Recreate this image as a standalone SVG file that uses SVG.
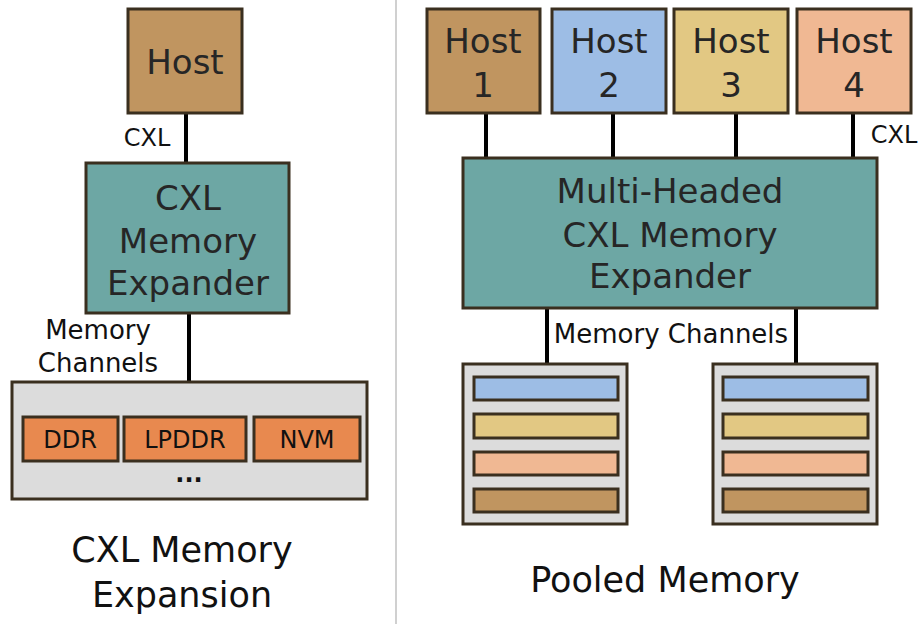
<svg xmlns="http://www.w3.org/2000/svg" width="919" height="624" viewBox="0 0 919 624">
<style>
text{font-family:"DejaVu Sans","Liberation Sans",sans-serif;fill:#262626;text-anchor:middle}
.box{stroke:#3a2f1f;stroke-width:3}
.big{font-size:34px}
.lbl{font-size:26px;fill:#111}
.sm{font-size:24px;fill:#111}
.ttl{font-size:35px;fill:#111}
.tan{fill:#c09560}.blue{fill:#9dbde5}.yel{fill:#e2c883}.pch{fill:#f0b893}
.teal{fill:#6da7a4}.gray{fill:#dcdcdc}.org{fill:#e8894f}
.wire{stroke:#000;stroke-width:4;fill:none}
</style>
<rect width="919" height="624" fill="#fff"/>
<line x1="396" y1="0" x2="396" y2="624" stroke="#d0d0d0" stroke-width="2"/>
<g id="connectors">
<line class="wire" x1="186" y1="113" x2="186" y2="163"/>
<line class="wire" x1="189" y1="313" x2="189" y2="382"/>
<line class="wire" x1="486" y1="113" x2="486" y2="158"/>
<line class="wire" x1="613" y1="113" x2="613" y2="158"/>
<line class="wire" x1="736" y1="113" x2="736" y2="158"/>
<line class="wire" x1="853" y1="113" x2="853" y2="158"/>
<line class="wire" x1="547" y1="308" x2="547" y2="364"/>
<line class="wire" x1="796" y1="308" x2="796" y2="364"/>
<text class="sm" x="147" y="146">CXL</text>
<text class="lbl" x="98" y="339">Memory</text>
<text class="lbl" x="98" y="372">Channels</text>
<text class="sm" x="894" y="143">CXL</text>
<text class="lbl" x="671" y="343">Memory Channels</text>
</g>
<g id="host">
<rect class="box tan" x="128" y="9" width="114" height="104"/>
<text class="big" x="185" y="74">Host</text>
</g>
<g id="expander">
<rect class="box teal" x="86" y="163" width="203" height="150"/>
<text class="big" x="188" y="210">CXL</text>
<text class="big" x="188" y="253">Memory</text>
<text class="big" x="188" y="295">Expander</text>
</g>
<g id="media">
<rect class="box gray" x="12" y="382" width="355" height="117"/>
<rect class="box org" x="23" y="417" width="95" height="44"/>
<text class="sm" x="70" y="448">DDR</text>
<rect class="box org" x="124" y="417" width="122" height="44"/>
<text class="sm" x="185" y="448">LPDDR</text>
<rect class="box org" x="254" y="417" width="106" height="44"/>
<text class="sm" x="307" y="448">NVM</text>
<text class="sm" x="189" y="482" style="font-weight:bold">...</text>
</g>
<text class="ttl" x="182" y="562">CXL Memory</text>
<text class="ttl" x="182" y="607">Expansion</text>
<g id="host1">
<rect class="box tan" x="427" y="9" width="113" height="104"/>
<text class="big" x="483" y="53">Host</text>
<text class="big" x="483" y="97">1</text>
</g>
<g id="host2">
<rect class="box blue" x="552" y="9" width="114" height="104"/>
<text class="big" x="609" y="53">Host</text>
<text class="big" x="609" y="97">2</text>
</g>
<g id="host3">
<rect class="box yel" x="674" y="9" width="114" height="104"/>
<text class="big" x="731" y="53">Host</text>
<text class="big" x="731" y="97">3</text>
</g>
<g id="host4">
<rect class="box pch" x="797" y="9" width="114" height="104"/>
<text class="big" x="854" y="53">Host</text>
<text class="big" x="854" y="97">4</text>
</g>
<g id="mh-expander">
<rect class="box teal" x="463" y="158" width="414" height="150"/>
<text class="big" x="670" y="203">Multi-Headed</text>
<text class="big" x="670" y="247">CXL Memory</text>
<text class="big" x="670" y="288">Expander</text>
</g>
<g id="pool1">
<rect class="box gray" x="463" y="364" width="164" height="160"/>
<rect class="box blue" x="474" y="377" width="144" height="23"/>
<rect class="box yel" x="474" y="414" width="144" height="24"/>
<rect class="box pch" x="474" y="452" width="144" height="23"/>
<rect class="box tan" x="474" y="489" width="144" height="23"/>
</g>
<g id="pool2">
<rect class="box gray" x="713" y="364" width="164" height="160"/>
<rect class="box blue" x="723" y="377" width="145" height="23"/>
<rect class="box yel" x="723" y="414" width="145" height="24"/>
<rect class="box pch" x="723" y="452" width="145" height="23"/>
<rect class="box tan" x="723" y="489" width="145" height="23"/>
</g>
<text class="ttl" x="665" y="592">Pooled Memory</text>
</svg>
